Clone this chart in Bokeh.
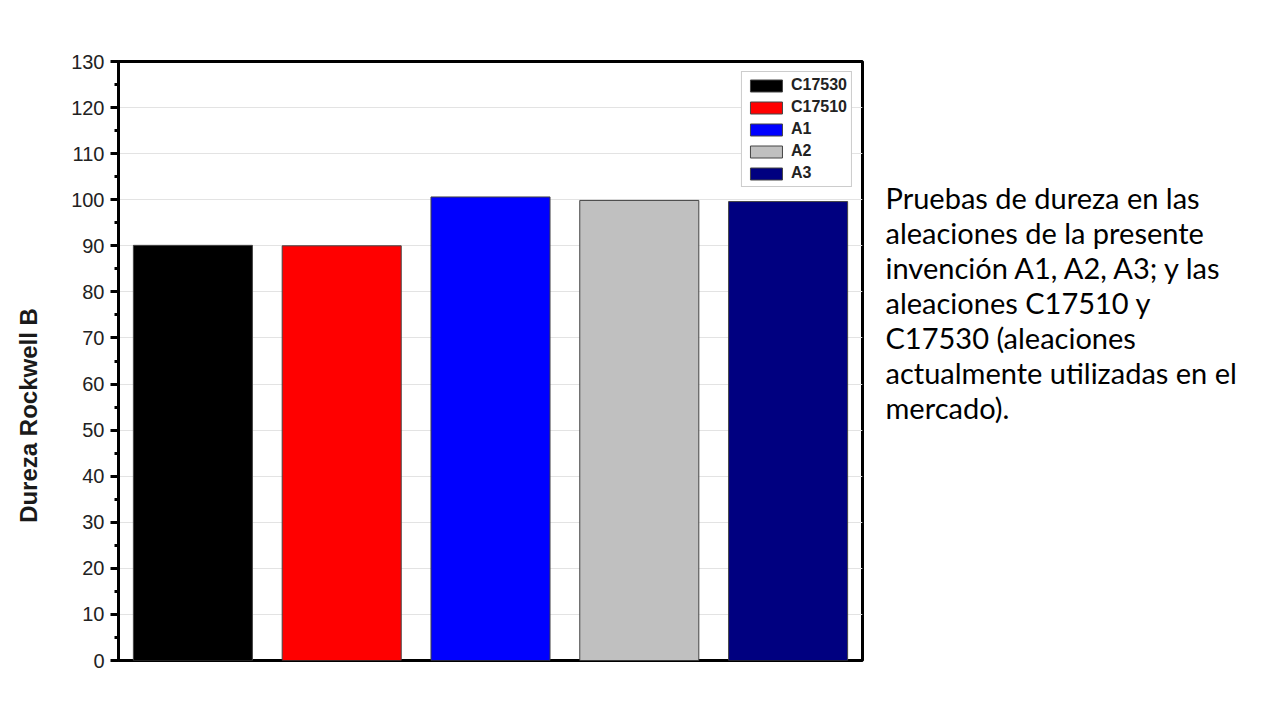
import math
from bokeh.plotting import figure
from bokeh.layouts import row
from bokeh.models import ColumnDataSource, SingleIntervalTicker, Range1d, FactorRange, Legend, LegendItem
from bokeh.core.properties import value
from bokeh.embed import file_html
from bokeh.resources import INLINE

alloys = ["C17530", "C17510", "A1", "A2", "A3"]
hardness = [90.1, 90.0, 100.6, 99.85, 99.6]
colors = ["#000000", "#ff0000", "#0000ff", "#c0c0c0", "#000080"]
y_label = "Dureza Rockwell B"
caption_lines = [
    "Pruebas de dureza en las",
    "aleaciones de la presente",
    "invención A1, A2, A3; y las",
    "aleaciones C17510 y",
    "C17530 (aleaciones",
    "actualmente utilizadas en el",
    "mercado).",
]

H = 700
TOP = 61
FH = 599
LEFT_W = 50
MAIN_W = 830
RIGHT_W = 384


def blank(x0, width):
    # frame aligned with the main frame; data coordinates equal page pixels
    f = figure(width=width, height=H, frame_width=width, frame_height=FH,
               x_range=Range1d(x0, x0 + width), y_range=Range1d(TOP + FH, TOP),
               output_backend="svg", toolbar_location=None,
               min_border_left=0, min_border_right=0, min_border_top=TOP,
               min_border_bottom=H - TOP - FH)
    f.axis.visible = False
    f.grid.visible = False
    f.outline_line_color = None
    return f


# left: y-axis title
pl = blank(0, LEFT_W)
pl.text(x=[28], y=[415], text=[y_label], angle=math.pi / 2,
        text_font=value("Liberation Sans"), text_font_style="bold",
        text_font_size="24px", text_align="center", text_baseline="middle",
        text_color="#1a1a1a")

# main chart
src = ColumnDataSource(dict(x=alloys, top=hardness, color=colors))
p = figure(width=MAIN_W, height=H, x_range=FactorRange(*alloys, range_padding=0),
           y_range=Range1d(0, 130), output_backend="svg", toolbar_location=None,
           frame_width=744, frame_height=FH, min_border_left=118 - LEFT_W, min_border_top=TOP,
           min_border_right=MAIN_W - (118 - LEFT_W) - 744, min_border_bottom=H - TOP - FH)

r = p.vbar(x="x", top="top", width=0.8, bottom=0, fill_color="color",
           line_color="#444444", line_width=1, source=src)

legend = Legend(items=[LegendItem(label=a, renderers=[r], index=i) for i, a in enumerate(alloys)],
                location="top_right")
legend.margin = 10
legend.padding = 4
legend.spacing = 4
legend.glyph_width = 40
legend.glyph_height = 15
legend.label_height = 16
legend.label_standoff = 5
legend.label_text_font = "Liberation Sans"
legend.label_text_font_style = "bold"
legend.label_text_font_size = "16px"
legend.label_text_color = "#222222"
legend.border_line_color = "#999999"
legend.border_line_width = 1
legend.background_fill_alpha = 1
p.add_layout(legend, "center")

p.xaxis.visible = False
p.xgrid.visible = False

yax = p.yaxis[0]
yax.ticker = SingleIntervalTicker(interval=10, num_minor_ticks=2)
yax.axis_line_width = 3
yax.axis_line_color = "black"
yax.major_tick_out = 8
yax.major_tick_in = 0
yax.minor_tick_out = 4
yax.minor_tick_in = 0
yax.major_tick_line_width = 3
yax.minor_tick_line_width = 3
yax.major_label_text_font = "Liberation Sans"
yax.major_label_text_font_size = "20px"
yax.major_label_text_color = "#222222"
yax.major_label_standoff = 6

p.ygrid.grid_line_color = "#e3e3e3"
p.ygrid.grid_line_width = 1
p.outline_line_color = "black"
p.outline_line_width = 3

# right: caption
pr = blank(LEFT_W + MAIN_W, RIGHT_W)
pr.text(x=[885] * len(caption_lines), y=[197 + 35 * i for i in range(len(caption_lines))],
        text=caption_lines, text_font=value("Lato"), text_font_size="29px",
        text_align="left", text_baseline="middle", text_color="#000000")

layout = row(pl, p, pr, spacing=0)
open("out.html", "w").write(file_html(layout, INLINE))
